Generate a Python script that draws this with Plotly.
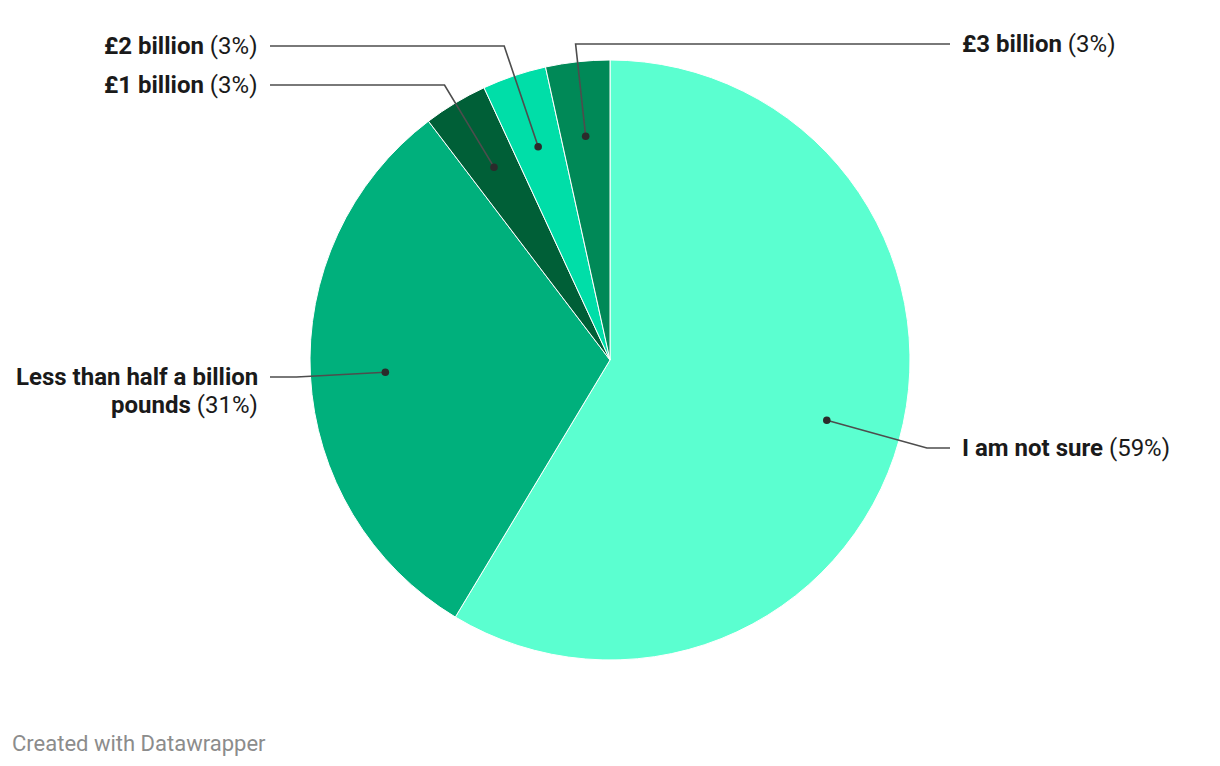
import math
import plotly.graph_objects as go

# survey answers (respondent counts), clockwise from 12 o'clock
labels = ["I am not sure", "Less than half a billion<br>pounds", "£1 billion", "£2 billion", "£3 billion"]
counts = [17, 9, 1, 1, 1]
colors = ["#5bffd0", "#00b07c", "#005f37", "#00dea8", "#008957"]

W, H = 1220, 766
OFF = 8  # page body margin, so work in window pixels
CX, CY, R = 610, 360, 300

# label placement: (row y, line end x, text x, side)
label_pos = {
    "I am not sure": (448, 950, 960, "left"),
    "Less than half a billion<br>pounds": (377, 270, 260, "right"),
    "£1 billion": (85, 270, 260, "right"),
    "£2 billion": (46, 270, 260, "right"),
    "£3 billion": (44, 950, 960, "left"),
}

total = sum(counts)
fig = go.Figure()
fig.add_pie(
    labels=labels, values=counts, sort=False, direction="clockwise", rotation=0,
    marker=dict(colors=colors, line=dict(color="white", width=1)),
    textinfo="none", hoverinfo="label+percent", showlegend=False,
    domain=dict(x=[(CX - R - OFF) / W, (CX + R - OFF) / W],
                y=[1 - (CY + R - OFF) / H, 1 - (CY - R - OFF) / H]),
)

shapes, annots = [], []
lab_font = dict(family="Roboto", size=24, color="#1a1a1a")
cum = 0
for lab, v in zip(labels, counts):
    mid = (cum + v / 2) / total * 2 * math.pi
    cum += v
    dx, dy = math.sin(mid), -math.cos(mid)
    px, py = CX + 0.75 * R * dx, CY + 0.75 * R * dy
    ly, lx_end, tx, anchor = label_pos[lab]
    t = (ly - py) / dy if abs(dy) > 1e-6 else 0
    ex, ey = px + t * dx, py + t * dy
    shapes.append(dict(type="path", xref="x", yref="y", layer="above",
                       path=f"M {px:.1f},{py:.1f} L {ex:.1f},{ey:.1f} L {lx_end},{ly}",
                       line=dict(color="#4d4d4d", width=1.6)))
    shapes.append(dict(type="circle", xref="x", yref="y", layer="above",
                       x0=px - 3.8, x1=px + 3.8, y0=py - 3.8, y1=py + 3.8,
                       fillcolor="#2b2b2b", line=dict(width=0)))
    pct = round(v / total * 100)
    parts = lab.split("<br>")
    rows = [f"<b>{p}</b>" for p in parts]
    rows[-1] += f" ({pct}%)"
    for i, row in enumerate(rows):
        annots.append(dict(x=tx, y=ly + 28 * i, xref="x", yref="y", text=row, showarrow=False,
                           xanchor=anchor, yanchor="middle", align=anchor, font=lab_font))

annots.append(dict(x=10, y=743, xref="x", yref="y", text="Created with Datawrapper",
                   showarrow=False, xanchor="left", yanchor="middle",
                   font=dict(family="Roboto", size=22, color="#8c8c8c")))

fig.update_layout(
    width=W, height=H, margin=dict(l=0, r=0, t=0, b=0),
    paper_bgcolor="white", plot_bgcolor="white",
    xaxis=dict(range=[OFF, W + OFF], visible=False, fixedrange=True),
    yaxis=dict(range=[H + OFF, OFF], visible=False, fixedrange=True),
    shapes=shapes, annotations=annots,
    font=dict(family="Roboto"),
)
fig.write_html("out.html")
